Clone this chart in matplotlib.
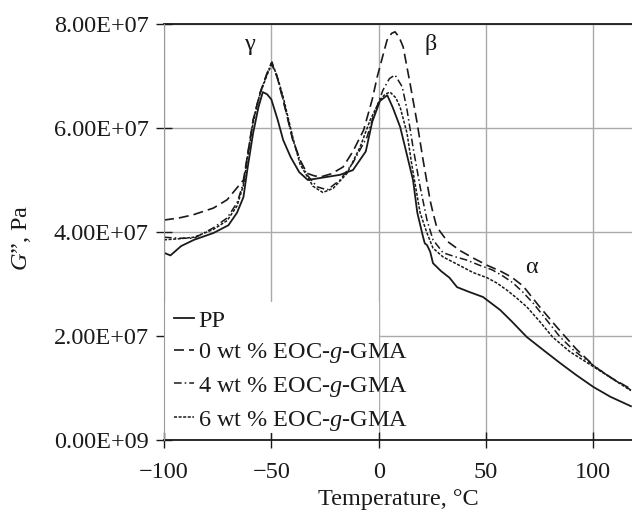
import matplotlib
matplotlib.use("Agg")
import matplotlib.pyplot as plt
from matplotlib.patches import Rectangle

plt.rcParams['font.family'] = ['Liberation Serif', 'DejaVu Serif']
plt.rcParams['mathtext.fontset'] = 'custom'
plt.rcParams['mathtext.rm'] = 'Liberation Serif'
plt.rcParams['mathtext.it'] = 'Liberation Serif:italic'

# data, G'' in units of 1e7 Pa
t_pp = [-100, -97, -92, -86, -77, -70, -66, -63, -61, -58.5, -56, -54, -52, -50, -47,
        -44.5, -41, -37, -33, -27, -18, -12, -6, -3, 0.6, 4, 6.5, 10, 12.3, 16, 18,
        20.7, 21.5, 22.5, 24, 25.3, 29, 33, 36.5, 42, 48.6, 56.6, 62, 69, 77, 84.5,
        92, 100, 108, 117.5]
g_pp = [3.60, 3.55, 3.73, 3.85, 3.98, 4.13, 4.37, 4.67, 5.25, 5.90, 6.40, 6.69, 6.65,
        6.55, 6.15, 5.77, 5.44, 5.15, 5.00, 5.04, 5.10, 5.19, 5.55, 6.12, 6.52, 6.63,
        6.40, 6.02, 5.63, 5.00, 4.37, 3.90, 3.78, 3.75, 3.62, 3.40, 3.25, 3.12, 2.94,
        2.85, 2.75, 2.50, 2.28, 1.98, 1.72, 1.48, 1.25, 1.02, 0.83, 0.65]

t_0 = [-100, -93, -86.5, -77, -70.6, -66, -63, -61, -58.5, -55.3, -52, -50, -47.3,
       -44.5, -42.2, -40, -36.6, -33.4, -30, -27, -22, -16.6, -12, -7, -3, -0.7, 2,
       3.9, 6, 7.6, 9.5, 11.4, 14.6, 17.9, 20.7, 24, 25.3, 27, 32, 38, 44, 50.5,
       56.6, 62, 67.3, 75, 83, 92, 101, 109, 117.5]
g_0 = [4.23, 4.27, 4.33, 4.46, 4.62, 4.85, 5.00, 5.50, 6.15, 6.67, 7.05, 7.25, 6.98,
       6.54, 6.15, 5.77, 5.38, 5.13, 5.08, 5.06, 5.12, 5.25, 5.55, 5.96, 6.55, 6.98,
       7.40, 7.69, 7.82, 7.85, 7.75, 7.56, 6.86, 6.10, 5.38, 4.60, 4.37, 4.10, 3.82,
       3.64, 3.50, 3.36, 3.25, 3.13, 2.96, 2.56, 2.17, 1.75, 1.40, 1.18, 0.98]

t_4 = [-100, -93, -86, -77, -70.6, -66, -63, -61, -58.5, -55.3, -52, -49.7, -47.3,
       -44.5, -42.2, -40, -36.6, -33.4, -28.7, -24, -18, -12, -5.4, -2.6, 2, 5, 7.6,
       11, 13.2, 16, 19.3, 22.5, 25.3, 30, 36, 41, 47, 53, 58, 62.6, 67, 72, 78,
       84.5, 91, 98.5, 108, 117.5]
g_4 = [3.90, 3.88, 3.88, 4.08, 4.27, 4.56, 4.94, 5.50, 6.15, 6.67, 7.05, 7.27, 6.98,
       6.54, 6.15, 5.77, 5.38, 5.10, 4.87, 4.81, 5.00, 5.33, 5.83, 6.21, 6.73, 6.95,
       7.02, 6.79, 6.35, 5.63, 4.87, 4.23, 3.85, 3.60, 3.52, 3.46, 3.36, 3.27, 3.15,
       3.02, 2.85, 2.63, 2.32, 1.98, 1.72, 1.48, 1.20, 0.96]

t_6 = [-100, -93, -86, -77, -70.6, -66, -63, -61, -58.5, -55.3, -52, -49.7, -47.3,
       -44.5, -42.2, -40, -36.6, -33, -30.6, -26, -21.2, -14.7, -8.7, -4, 0.6, 3,
       5.3, 8, 10, 13.2, 15.6, 19.3, 22.5, 25.3, 30, 38, 44, 50.5, 55, 59.8, 64, 69,
       75, 81, 89, 98.5, 108, 117.5]
g_6 = [3.85, 3.87, 3.90, 4.05, 4.22, 4.50, 4.90, 5.45, 6.10, 6.65, 7.02, 7.24, 7.00,
       6.60, 6.20, 5.82, 5.30, 5.05, 4.88, 4.76, 4.84, 5.13, 5.63, 6.15, 6.54, 6.65,
       6.69, 6.58, 6.40, 5.90, 5.25, 4.37, 3.98, 3.69, 3.52, 3.35, 3.22, 3.12, 3.02,
       2.88, 2.74, 2.56, 2.28, 1.98, 1.70, 1.45, 1.20, 0.95]

labels = ["PP", "0 wt % EOC-$g$-GMA", "4 wt % EOC-$g$-GMA", "6 wt % EOC-$g$-GMA"]
yticks = [0, 2e7, 4e7, 6e7, 8e7]
ytick_labels = ["0.00E+09", "2.00E+07", "4.00E+07", "6.00E+07", "8.00E+07"]
xticks = [-100, -50, 0, 50, 100]

fs = 17.5
ink = '#1a1a1a'

fig = plt.figure(figsize=(6.32, 5.13), dpi=100)
ax = fig.add_axes([0.2595, 0.1423, 0.7405, 0.8109])

k = 1e7
ax.plot(t_pp, [g * k for g in g_pp], color=ink, lw=1.3, ls='-', label=labels[0])
ax.plot(t_0, [g * k for g in g_0], color=ink, lw=1.2, ls=(0, (6, 3)), label=labels[1])
ax.plot(t_4, [g * k for g in g_4], color=ink, lw=1.1, ls=(0, (5, 2, 1, 2)), label=labels[2])
ax.plot(t_6, [g * k for g in g_6], color=ink, lw=1.1, ls=(0, (2, 1)), label=labels[3])

ax.set_xlim(-100, 118)
ax.set_ylim(0, 8e7)
ax.set_xticks(xticks)
ax.set_yticks(yticks)
ax.set_yticklabels(ytick_labels)
ax.tick_params(labelsize=fs, direction='inout', length=12, width=1, colors=ink)
ax.tick_params(axis='x', pad=10)
ax.tick_params(axis='y', pad=5)
ax.grid(True, color='#aaaaaa', lw=1)
ax.set_axisbelow(True)

# white block behind the legend, like the original sheet
ax.add_patch(Rectangle((0.0, 0.017), 0.459, 0.314, transform=ax.transAxes,
                       facecolor='white', edgecolor='none', zorder=1.5))

ax.spines['right'].set_visible(False)
ax.spines['left'].set_color('#999999')
ax.spines['left'].set_zorder(3)
ax.spines['top'].set_color(ink)
ax.spines['bottom'].set_color(ink)
ax.spines['top'].set_linewidth(1.3)
ax.spines['bottom'].set_linewidth(1.3)

ax.set_xlabel("Temperature, °C", fontsize=fs, color=ink, labelpad=4)
ax.set_ylabel("$G$\u201d, Pa", fontsize=fs, color=ink)
ax.yaxis.set_label_coords(-0.28, 0.485)

ax.text(-60, 7.6e7, "γ", fontsize=fs, ha='center', va='center', color=ink)
ax.text(24, 7.6e7, "β", fontsize=fs, ha='center', va='center', color=ink)
ax.text(71, 3.31e7, "α", fontsize=fs, ha='center', va='center', color=ink)

leg = ax.legend(loc='lower left', bbox_to_anchor=(0.005, 0.0), fontsize=fs,
                frameon=False, handlelength=0.85, handletextpad=0.15,
                labelspacing=0.4, borderpad=0.3, borderaxespad=0.0)
for txt in leg.get_texts():
    txt.set_color(ink)

fig.savefig("out.png", dpi=100)
